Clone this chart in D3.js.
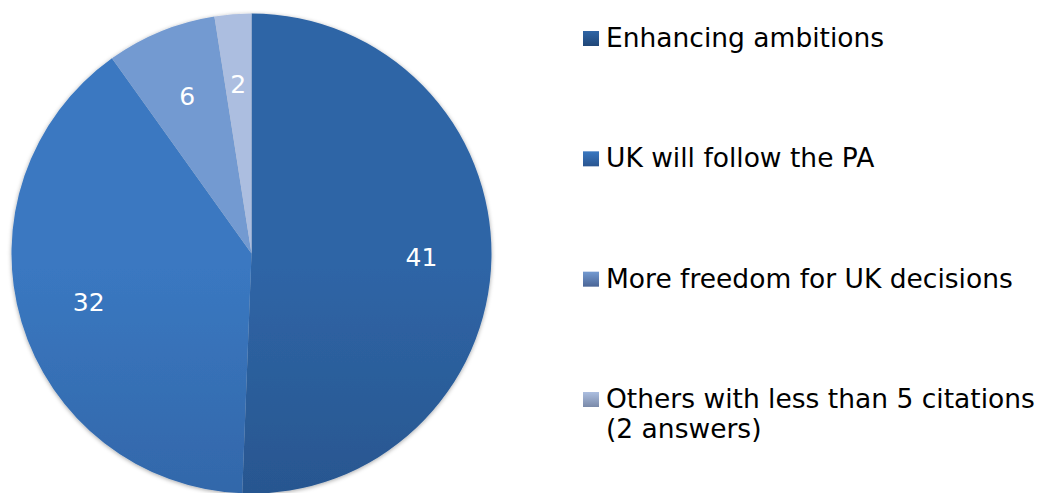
<!DOCTYPE html>
<html>
<head>
<meta charset="utf-8">
<script src="https://cdn.jsdelivr.net/npm/d3@7"></script>
<style>
  body { margin: 0; background: #fff; }
  svg { display: block; }
  text { font-family: "DejaVu Sans", "Noto Sans", sans-serif; }
</style>
</head>
<body>
<svg id="chart" width="1043" height="493"></svg>
<script>
const categories = ["Enhancing ambitions", "UK will follow the PA", "More freedom for UK decisions", "Others with less than 5 citations\n(2 answers)"];
const values = [41, 32, 6, 2];
const topColors = ["#2f65a6", "#3a78c1", "#739ad1", "#acbee0"];
const bottomColors = ["#204677", "#2a5590", "#4a6596", "#7a8aa9"];

const width = 1043, height = 493;
const cx = 251.5, cy = 253.5, radius = 240;

const svg = d3.select("#chart");
const defs = svg.append("defs");

// vertical gradient per slice, across the whole pie
values.forEach((v, i) => {
  const g = defs.append("linearGradient")
    .attr("id", "grad" + i)
    .attr("gradientUnits", "userSpaceOnUse")
    .attr("x1", 0).attr("y1", cy - radius)
    .attr("x2", 0).attr("y2", cy + radius);
  g.append("stop").attr("offset", "0%").attr("stop-color", topColors[i]);
  g.append("stop").attr("offset", "100%").attr("stop-color", bottomColors[i]);
});

const shadow = defs.append("filter").attr("id", "shadow")
  .attr("x", "-10%").attr("y", "-10%").attr("width", "120%").attr("height", "120%");
shadow.append("feDropShadow").attr("dx", 0).attr("dy", 1).attr("stdDeviation", 2)
  .attr("flood-color", "#000").attr("flood-opacity", 0.35);

const pie = d3.pie().sort(null).value(d => d);
const arcs = pie(values);

const path = d3.arc().innerRadius(0).outerRadius(radius);
const label = d3.arc().innerRadius(170).outerRadius(170);

const g = svg.append("g")
  .attr("transform", "translate(" + cx + "," + cy + ")");

g.append("g").attr("filter", "url(#shadow)")
  .selectAll("path")
  .data(arcs)
  .enter()
  .append("path")
  .attr("d", path)
  .attr("fill", (d, i) => "url(#grad" + i + ")");

g.selectAll(".lbl")
  .data(arcs)
  .enter()
  .append("text")
  .attr("class", "lbl")
  .attr("transform", d => "translate(" + label.centroid(d) + ")")
  .attr("text-anchor", "middle")
  .attr("dy", "0.36em")
  .attr("fill", "#fff")
  .attr("font-size", 25)
  .text(d => d.data);

// legend
const legend = svg.append("g").attr("transform", "translate(583,0)");
const rowY = d3.scalePoint().domain(categories).range([47, 408]);

categories.forEach((c, i) => {
  const y = rowY(c);
  const lg = defs.append("linearGradient").attr("id", "lg" + i)
    .attr("x1", 0).attr("y1", 0).attr("x2", 0).attr("y2", 1);
  lg.append("stop").attr("offset", "0%").attr("stop-color", topColors[i]);
  lg.append("stop").attr("offset", "100%").attr("stop-color", bottomColors[i]);
  legend.append("rect")
    .attr("x", 0).attr("y", y - 16)
    .attr("width", 16).attr("height", 15)
    .attr("fill", "url(#lg" + i + ")");

  const t = legend.append("text")
    .attr("y", y)
    .attr("font-size", 26.5)
    .attr("fill", "#000");
  c.split("\n").forEach((ln, k) => {
    t.append("tspan").attr("x", 23).attr("y", y + k * 30).text(ln);
  });
});
</script>
</body>
</html>
